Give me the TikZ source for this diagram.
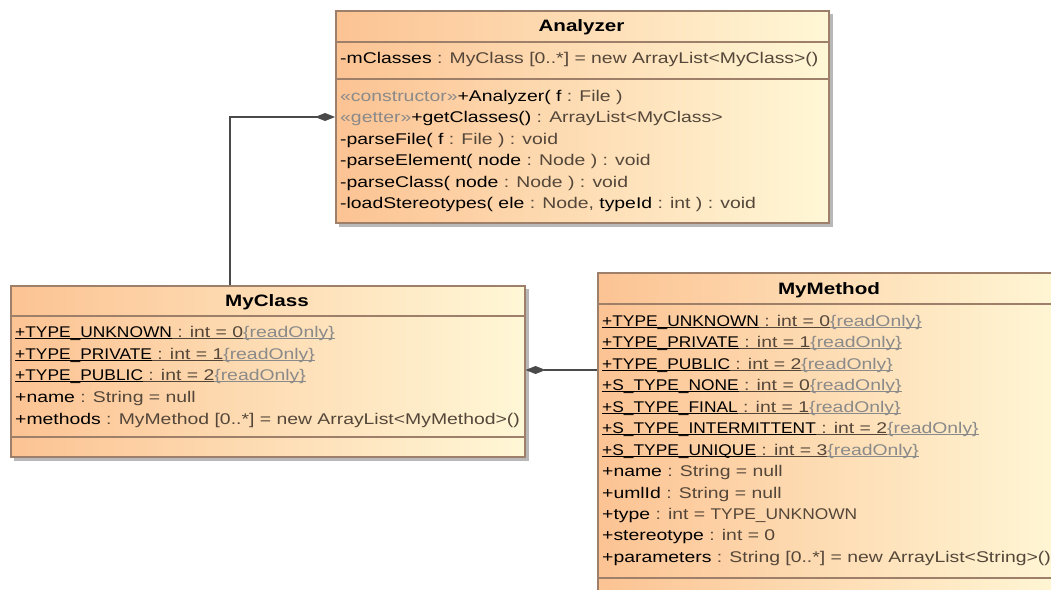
\documentclass[tikz,border=0pt]{standalone}
\usepackage{fontspec}
\setmainfont[FakeStretch=1.25]{Liberation Sans}
% capitals run narrower in this diagram's face
\newfontfamily\capsfont[FakeStretch=1.12]{Liberation Sans}
\usetikzlibrary{arrows.meta}

\definecolor{boxL}{HTML}{FCC393}
\definecolor{boxR}{HTML}{FFF7D6}
\definecolor{edge}{HTML}{9E806A}
\definecolor{typec}{HTML}{54473A}
\definecolor{roc}{HTML}{8A8A8A}
\definecolor{linkc}{HTML}{4A4A4A}
\definecolor{shad}{HTML}{B8B8B8}

% name / type / stereotype parts of a member line
\newcommand\nm[1]{{\color{black}#1}}
\newcommand\ty[1]{{\color{typec}#1}}
\newcommand\stp[1]{{\color{roc}#1}}
% underlined segment for static members, rule in the segment's colour
\newcommand\useg[2]{{\color{#1}\setbox0\hbox{#2}\rlap{\rule[-2.2pt]{\wd0}{1.1pt}}\box0}}
\newcommand\statrow[2]{\useg{black}{\capsfont #1}\useg{typec}{#2}\useg{roc}{\{readOnly\}}}

\tikzset{
  x=1pt, y=-1pt,
  classbox/.style={draw=edge, line width=1.6pt, left color=boxL, right color=boxR,
    anchor=north west, inner sep=0pt},
  boxshadow/.style={fill=shad},
  sep/.style={draw=edge, line width=1.4pt},
  member/.style={anchor=base west, inner sep=0pt, font=\fontsize{15.5}{18}\selectfont},
  title/.style={anchor=base, inner sep=0pt, font=\fontsize{16.5}{18}\selectfont\bfseries},
  link/.style={draw=linkc, line width=1.4pt},
  comp/.style={link, -{Diamond[length=20pt, width=8pt, fill=linkc]}},
}

\begin{document}
\begin{tikzpicture}
\useasboundingbox (0,0) rectangle (1051,589);
\clip (0,0) rectangle (1051,589);

% ---------- shadows ----------
\fill[boxshadow] (339,14) rectangle (833,227);
\fill[boxshadow] (14,289) rectangle (529,461);
\fill[boxshadow] (601,276) rectangle (1070,600);

% ---------- Analyzer ----------
\node[classbox, minimum width=493pt, minimum height=212pt] (analyzer) at (335,10) {};
\draw[sep] (335,42) -- (828,42);
\draw[sep] (335,79) -- (828,79);
\node[title] (analyzerT) at (581.5,31) {Analyzer};
\node[member] (an1) at (340,63) {\nm{-mClasses }\ty{: MyClass [0..*] = new ArrayList<MyClass>()}};
\node[member] (an2) at (340,101) {\stp{«constructor»}\nm{+Analyzer( f }\ty{: File )}};
\node[member] (an3) at (340,122) {\stp{«getter»}\nm{+getClasses() }\ty{: ArrayList<MyClass>}};
\node[member] (an4) at (340,144) {\nm{-parseFile( f }\ty{: File ) : void}};
\node[member] (an5) at (340,165) {\nm{-parseElement( node }\ty{: Node ) : void}};
\node[member] (an6) at (340,187) {\nm{-parseClass( node }\ty{: Node ) : void}};
\node[member] (an7) at (340,208) {\nm{-loadStereotypes( ele }\ty{: Node, }\nm{typeId }\ty{: int ) : void}};

% ---------- MyClass ----------
\node[classbox, minimum width=514pt, minimum height=171pt] (myclass) at (10,285) {};
\draw[sep] (10,316) -- (524,316);
\draw[sep] (10,437) -- (524,437);
\node[title] (myclassT) at (267,306) {MyClass};
\node[member] (mc1) at (15,337) {\statrow{+TYPE\_UNKNOWN}{ : int = 0}};
\node[member] (mc2) at (15,359) {\statrow{+TYPE\_PRIVATE}{ : int = 1}};
\node[member] (mc3) at (15,380) {\statrow{+TYPE\_PUBLIC}{ : int = 2}};
\node[member] (mc4) at (15,402) {\nm{+name }\ty{: String = null}};
\node[member] (mc5) at (15,424) {\nm{+methods }\ty{: MyMethod [0..*] = new ArrayList<MyMethod>()}};

% ---------- MyMethod ----------
\node[classbox, minimum width=470pt, minimum height=330pt] (mymethod) at (597,272) {};
\draw[sep] (597,304) -- (1070,304);
\draw[sep] (597,578) -- (1070,578);
\node[title] (mymethodT) at (829,294) {MyMethod};
\node[member] (mm1) at (602,326) {\statrow{+TYPE\_UNKNOWN}{ : int = 0}};
\node[member] (mm2) at (602,347) {\statrow{+TYPE\_PRIVATE}{ : int = 1}};
\node[member] (mm3) at (602,369) {\statrow{+TYPE\_PUBLIC}{ : int = 2}};
\node[member] (mm4) at (602,390) {\statrow{+S\_TYPE\_NONE}{ : int = 0}};
\node[member] (mm5) at (602,412) {\statrow{+S\_TYPE\_FINAL}{ : int = 1}};
\node[member] (mm6) at (602,433) {\statrow{+S\_TYPE\_INTERMITTENT}{ : int = 2}};
\node[member] (mm7) at (602,455) {\statrow{+S\_TYPE\_UNIQUE}{ : int = 3}};
\node[member] (mm8) at (602,476) {\nm{+name }\ty{: String = null}};
\node[member] (mm9) at (602,498) {\nm{+umlId }\ty{: String = null}};
\node[member] (mm10) at (602,519) {\nm{+type }\ty{: int = {\capsfont TYPE\_UNKNOWN}}};
\node[member] (mm11) at (602,540) {\nm{+stereotype }\ty{: int = 0}};
\node[member] (mm12) at (602,562) {\nm{+parameters }\ty{: String [0..*] = new ArrayList<String>()}};

% ---------- compositions ----------
\coordinate (bend) at (230,117);
\coordinate (mid) at (560,370);
\draw[comp] (myclass.north -| bend) |- (analyzer.west |- bend);
\draw[comp] (mymethod.west |- mid) -- (myclass.east |- mid);
\end{tikzpicture}
\end{document}
